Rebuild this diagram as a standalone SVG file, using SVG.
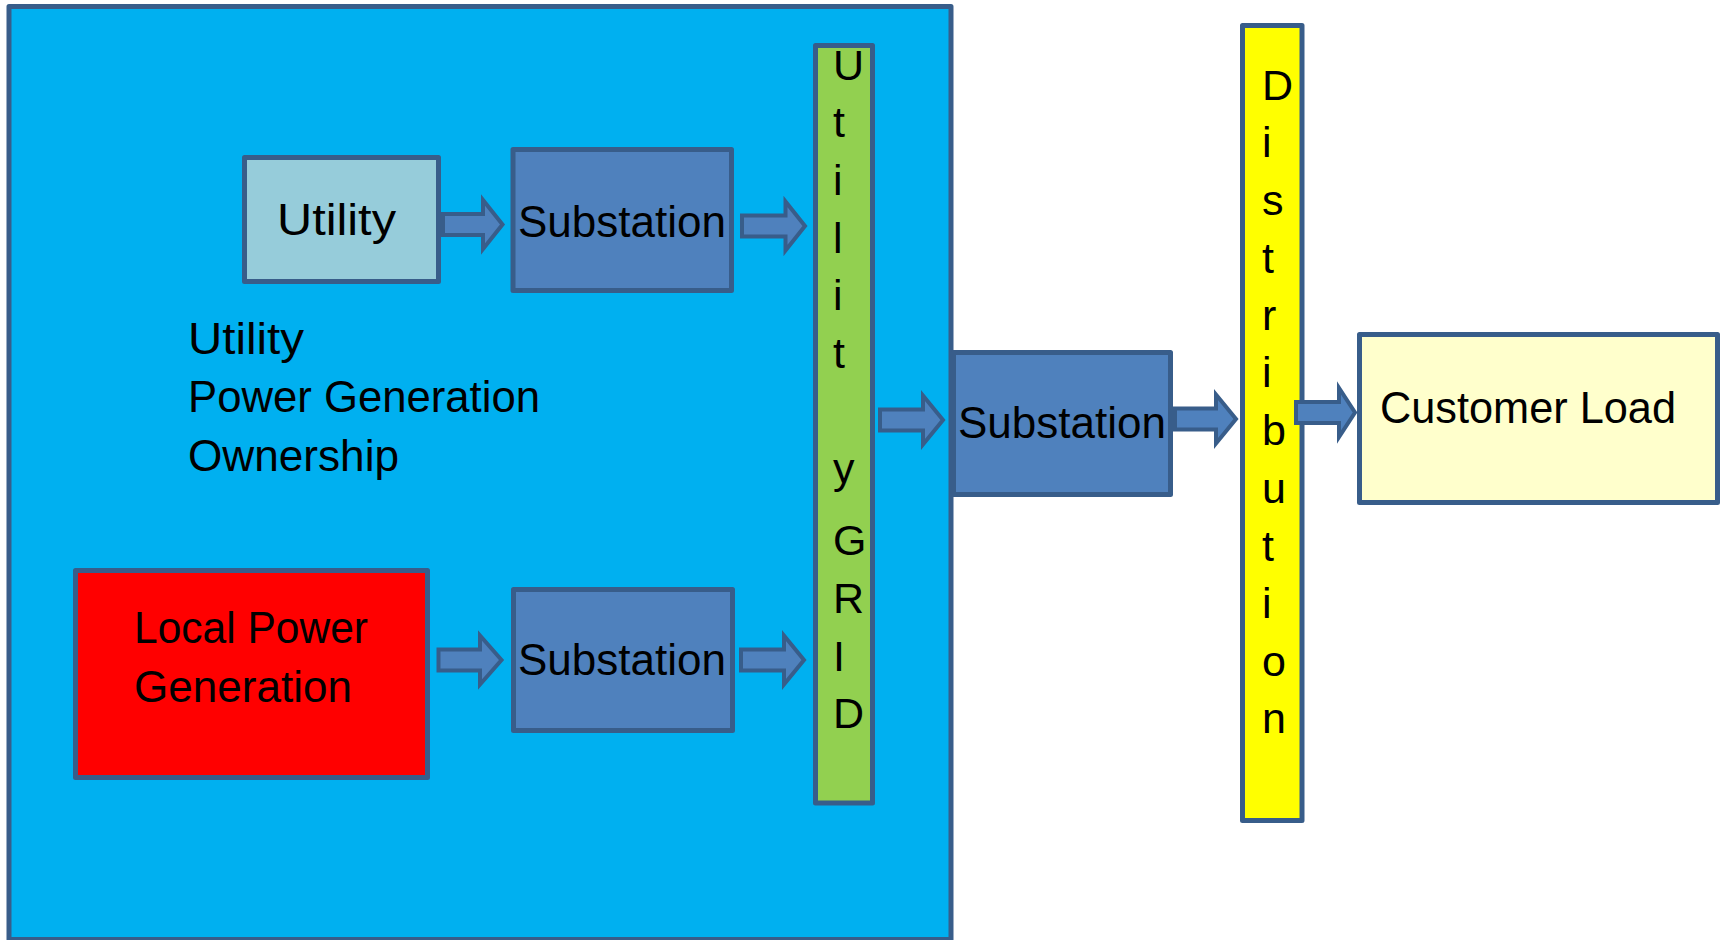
<svg xmlns="http://www.w3.org/2000/svg" width="1721" height="940" viewBox="0 0 1721 940">
  <style>
    .box { stroke: #385D8A; stroke-width: 5; stroke-linejoin: round; }
    .sub { fill: #4F81BD; }
    .arrow { fill: #4F81BD; stroke: #385D8A; stroke-width: 4; stroke-linejoin: miter; }
    .lbl { font-family: "Liberation Sans", Arial, sans-serif; font-size: 44px; fill: #000000; }
    .vch { font-family: "Liberation Sans", Arial, sans-serif; font-size: 43px; fill: #000000; }
  </style>

  <rect width="1721" height="940" fill="#FFFFFF"/>

  <!-- utility ownership area -->
  <g id="ownership-area">
    <rect class="box" x="9" y="6.5" width="942" height="933" fill="#00B0F0"/>
    <text class="lbl" x="188" y="354" textLength="116" lengthAdjust="spacingAndGlyphs">Utility</text>
    <text class="lbl" x="188" y="412" textLength="352" lengthAdjust="spacingAndGlyphs">Power Generation</text>
    <text class="lbl" x="188" y="471" textLength="211" lengthAdjust="spacingAndGlyphs">Ownership</text>
  </g>

  <g id="utility">
    <rect class="box" x="244.5" y="157.5" width="194" height="124" fill="#96CCDA"/>
    <text class="lbl" x="277" y="235" textLength="119" lengthAdjust="spacingAndGlyphs">Utility</text>
  </g>

  <g id="substation-top">
    <rect class="box sub" x="513" y="149.5" width="218.5" height="141"/>
    <text class="lbl" x="518" y="237" textLength="208" lengthAdjust="spacingAndGlyphs">Substation</text>
  </g>

  <g id="local-generation">
    <rect class="box" x="75.5" y="570.5" width="352" height="207" fill="#FF0000"/>
    <text class="lbl" x="134" y="643" textLength="234" lengthAdjust="spacingAndGlyphs">Local Power</text>
    <text class="lbl" x="134" y="702" textLength="218" lengthAdjust="spacingAndGlyphs">Generation</text>
  </g>

  <g id="substation-bottom">
    <rect class="box sub" x="513.5" y="589.5" width="219" height="141"/>
    <text class="lbl" x="518" y="675" textLength="208" lengthAdjust="spacingAndGlyphs">Substation</text>
  </g>

  <g id="utility-grid">
    <rect class="box" x="815.5" y="45.5" width="57" height="757.5" fill="#92D050"/>
    <text class="vch" x="833" y="80">U</text>
    <text class="vch" x="833" y="137">t</text>
    <text class="vch" x="833" y="195">i</text>
    <text class="vch" x="833" y="253">l</text>
    <text class="vch" x="833" y="310">i</text>
    <text class="vch" x="833" y="368">t</text>
    <text class="vch" x="833" y="483">y</text>
    <text class="vch" x="833" y="555">G</text>
    <text class="vch" x="833" y="613">R</text>
    <text class="vch" x="833" y="671">I</text>
    <text class="vch" x="833" y="728">D</text>
  </g>

  <g id="substation-middle">
    <rect class="box sub" x="953.5" y="352.5" width="217" height="142"/>
    <text class="lbl" x="958" y="438" textLength="208" lengthAdjust="spacingAndGlyphs">Substation</text>
  </g>

  <g id="distribution">
    <rect class="box" x="1242.5" y="25.5" width="59.5" height="795" fill="#FFFF00"/>
    <text class="vch" x="1262" y="100">D</text>
    <text class="vch" x="1262" y="157">i</text>
    <text class="vch" x="1262" y="215">s</text>
    <text class="vch" x="1262" y="273">t</text>
    <text class="vch" x="1262" y="330">r</text>
    <text class="vch" x="1262" y="387">i</text>
    <text class="vch" x="1262" y="445">b</text>
    <text class="vch" x="1262" y="503">u</text>
    <text class="vch" x="1262" y="561">t</text>
    <text class="vch" x="1262" y="618">i</text>
    <text class="vch" x="1262" y="676">o</text>
    <text class="vch" x="1262" y="733">n</text>
  </g>

  <g id="customer-load">
    <rect class="box" x="1359.5" y="334.5" width="358" height="168" fill="#FFFFCC"/>
    <text class="lbl" x="1380" y="423" textLength="296" lengthAdjust="spacingAndGlyphs">Customer Load</text>
  </g>

  <!-- block arrows between stages -->
  <g id="connectors">
    <polygon class="arrow" points="443,214 483,214 483,200 502.5,224.5 483,249 483,235 443,235"/>
    <polygon class="arrow" points="742,215.5 785.5,215.5 785.5,201.5 805,226 785.5,250.5 785.5,236.5 742,236.5"/>
    <polygon class="arrow" points="880,409.5 923,409.5 923,395.5 943,420 923,444.5 923,430.5 880,430.5"/>
    <polygon class="arrow" points="1175,408.5 1216,408.5 1216,394.5 1236,419 1216,443.5 1216,429.5 1175,429.5"/>
    <polygon class="arrow" points="1296,402 1339,402 1339,388 1355,412.5 1339,437 1339,423 1296,423"/>
    <polygon class="arrow" points="438.5,649.5 480,649.5 480,635.5 501.5,660 480,684.5 480,670.5 438.5,670.5"/>
    <polygon class="arrow" points="741,649.5 784,649.5 784,635.5 804,660 784,684.5 784,670.5 741,670.5"/>
  </g>
</svg>
